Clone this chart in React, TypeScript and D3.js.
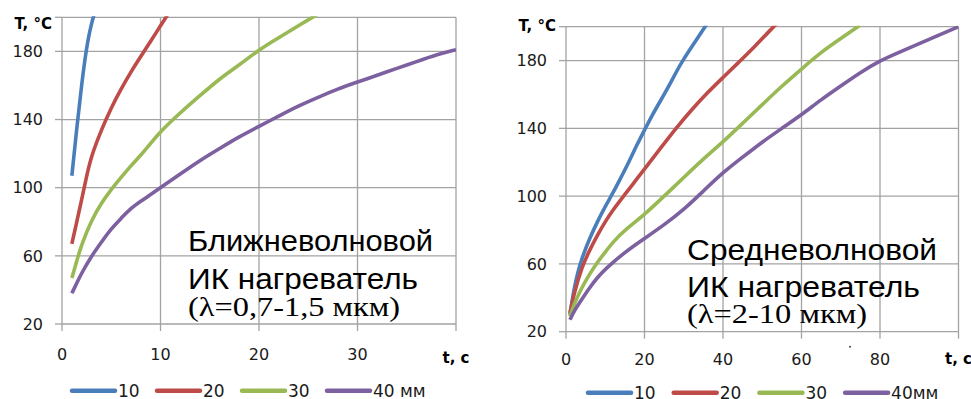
import React, { useEffect, useRef } from 'react';
import * as d3 from 'd3';

// series colours (Excel 2007 palette)
const colors = ['#4a7ebb', '#be4b48', '#98b954', '#7d60a0'];

// near-wave heater, t (s) vs T (°C), thickness 10/20/30/40 mm
const near10 = [[1, 107], [1.5, 135], [2, 161], [2.5, 183], [3, 197], [3.5, 206]];
const near20 = [[1, 67], [1.5, 80], [2, 93], [2.5, 107], [3, 119], [4, 134], [5, 147], [6, 158], [7, 168], [8, 177], [9, 186], [10, 195], [11, 204]];
const near30 = [[1, 47], [1.5, 57], [2, 67], [3, 81], [4, 91], [5, 99], [6, 106], [7, 113], [8, 119], [9, 126], [10, 133], [12, 144], [14, 154], [16, 164], [18, 172], [20, 181], [22, 188], [24, 195], [26, 202]];
const near40 = [[1, 38], [1.5, 44], [2, 50], [3, 60], [4, 68], [5, 76], [6, 82], [7, 88], [8, 92], [9, 96], [10, 100], [12, 108], [14, 116], [16, 123], [18, 130], [20, 136], [22, 142], [24, 148], [26, 153], [28, 158], [30, 162], [32, 166], [34, 170], [36, 174], [38, 178], [40, 181]];

// mid-wave heater
const mid10 = [[1, 30], [2, 45], [3, 55], [4, 63], [6, 75], [8, 85], [10, 94], [12, 102], [14, 111], [16, 120], [18, 130], [20, 139], [22, 148], [24, 156], [26, 164], [28, 173], [30, 181], [32, 188], [34, 195], [36, 202]];
const mid20 = [[1, 31], [2, 42], [4, 58], [6, 68], [8, 77], [10, 85], [12, 92], [14, 98], [16, 104], [18, 110], [20, 116], [24, 128], [28, 140], [32, 151], [36, 161], [40, 170], [44, 179], [48, 188], [52, 198], [56, 207]];
const mid30 = [[1, 29], [2, 36], [4, 46], [6, 54], [8, 61], [10, 67], [12, 73], [15, 80], [20, 89], [25, 100], [30, 111], [35, 122], [40, 132], [45, 143], [50, 154], [55, 165], [60, 175], [65, 185], [70, 193], [75, 201]];
const mid40 = [[1, 27], [2, 32], [4, 39], [6, 46], [8, 52], [10, 57], [15, 67], [20, 75], [25, 83], [30, 92], [35, 103], [40, 114], [45, 123], [50, 132], [55, 140], [60, 148], [65, 157], [70, 165], [75, 173], [80, 180], [85, 185], [90, 190], [95, 195], [100, 200]];

const legendNear = ['10', '20', '30', '40 мм'];
const legendMid = ['10', '20', '30', '40мм'];
const yTickValues = [20, 60, 100, 140, 180];
const yGridValues = [20, 60, 100, 140, 180, 200];

const panels = [
  {
    id: 'near', series: [near10, near20, near30, near40], legend: legendNear,
    xMax: 40, xStep: 10, x0: 62, x1: 456, yBottom: 324, yTop: 17.3,
    yTitleY: 24, xLabelDy: 30, xTitleDy: 34, legendX: 72, legendStep: 85, legendY: 390.7,
    note: ['Ближневолновой', 'ИК нагреватель', '(λ=0,7-1,5 мкм)'],
    noteX: 188, noteY: [251, 289, 315.5], noteW: [245, 230, 212],
  },
  {
    id: 'mid', series: [mid10, mid20, mid30, mid40], legend: legendMid,
    xMax: 100, xStep: 20, x0: 566, x1: 958.5, yBottom: 331.7, yTop: 26.7,
    yTitleY: 25.7, xLabelDy: 28, xTitleDy: 27, legendX: 588, legendStep: 85.7, legendY: 392.7,
    note: ['Средневолновой', 'ИК нагреватель', '(λ=2-10 мкм)'],
    noteX: 687, noteY: [260, 297, 323], noteW: [250, 233, 180],
  },
];

const gridColor = '#a3a3a3';
const tickFont = 'DejaVu Sans, Verdana, sans-serif';

const drawPanel = (root, p) => {
  const g = root.append('g');
  const x = d3.scaleLinear().domain([0, p.xMax]).range([p.x0, p.x1]);
  const y = d3.scaleLinear().domain([20, 200]).range([p.yBottom, p.yTop]);
  const xTicks = d3.range(0, p.xMax + 0.001, p.xStep);

  // grid
  g.selectAll('.vgrid').data(xTicks).enter().append('line')
    .attr('x1', d => x(d)).attr('x2', d => x(d))
    .attr('y1', y(20)).attr('y2', y(200))
    .style('stroke', gridColor).style('stroke-width', 1.3);
  g.selectAll('.hgrid').data(yGridValues).enter().append('line')
    .attr('x1', x(0)).attr('x2', x(p.xMax))
    .attr('y1', d => y(d)).attr('y2', d => y(d))
    .style('stroke', gridColor).style('stroke-width', 1.3);

  // tick marks
  g.selectAll('.ytick').data(yGridValues).enter().append('line')
    .attr('x1', x(0) - 7).attr('x2', x(0))
    .attr('y1', d => y(d)).attr('y2', d => y(d))
    .style('stroke', gridColor).style('stroke-width', 1.3);
  g.selectAll('.xtick').data(xTicks).enter().append('line')
    .attr('x1', d => x(d)).attr('x2', d => x(d))
    .attr('y1', y(20)).attr('y2', y(20) + 7)
    .style('stroke', gridColor).style('stroke-width', 1.3);

  // tick labels
  g.selectAll('.ylab').data(yTickValues).enter().append('text')
    .attr('x', x(0) - 19).attr('y', d => y(d))
    .attr('dy', '0.36em')
    .attr('text-anchor', 'end')
    .style('font-family', tickFont).style('font-size', '16px').style('fill', '#1a1a1a')
    .text(d => d);
  g.selectAll('.xlab').data(xTicks.slice(0, -1)).enter().append('text')
    .attr('x', d => x(d)).attr('y', y(20) + p.xLabelDy)
    .attr('dy', '0.36em')
    .attr('text-anchor', 'middle')
    .style('font-family', tickFont).style('font-size', '16px').style('fill', '#1a1a1a')
    .text(d => d);

  // axis titles
  g.append('text')
    .attr('x', x(0) - 10).attr('y', p.yTitleY).attr('dy', '0.36em')
    .attr('text-anchor', 'end')
    .style('font-family', tickFont).style('font-size', '15px').style('font-weight', 'bold')
    .text('T, °C');
  g.append('text')
    .attr('x', x(p.xMax)).attr('y', y(20) + p.xTitleDy).attr('dy', '0.36em')
    .attr('text-anchor', 'middle')
    .style('font-family', tickFont).style('font-size', '15px').style('font-weight', 'bold')
    .text('t, c');

  // curves
  g.append('clipPath').attr('id', 'clip-' + p.id)
    .append('rect')
    .attr('x', x(0)).attr('y', y(200) - 1)
    .attr('width', x(p.xMax) - x(0)).attr('height', y(20) - y(200) + 1);

  const line = d3.line()
    .x(d => x(d[0]))
    .y(d => y(d[1]))
    .curve(d3.curveBasis);

  g.append('g').attr('clip-path', `url(#clip-${p.id})`)
    .selectAll('path').data(p.series).enter().append('path')
    .attr('d', d => line(d))
    .style('fill', 'none')
    .style('stroke', (d, i) => colors[i])
    .style('stroke-width', 3.6)
    .style('stroke-linecap', 'butt');

  // annotation
  p.note.forEach((txt, i) => {
    g.append('text')
      .attr('x', p.noteX).attr('y', p.noteY[i])
      .attr('textLength', p.noteW[i]).attr('lengthAdjust', 'spacingAndGlyphs')
      .style('font-family', i < 2 ? 'Liberation Sans, Arial, sans-serif' : 'Liberation Serif, Times New Roman, serif')
      .style('font-size', i < 2 ? '30px' : '27px')
      .style('fill', '#000')
      .text(txt);
  });

  // legend
  const leg = g.selectAll('.leg').data(p.legend).enter().append('g')
    .attr('transform', (d, i) => `translate(${p.legendX + i * p.legendStep},${p.legendY})`);
  leg.append('line')
    .attr('x1', 0).attr('x2', 43).attr('y1', 0).attr('y2', 0)
    .style('stroke', (d, i) => colors[i])
    .style('stroke-width', 4.5)
    .style('stroke-linecap', 'round');
  leg.append('text')
    .attr('x', 46).attr('y', 0).attr('dy', '0.36em')
    .style('font-family', tickFont).style('font-size', '17px').style('fill', '#1a1a1a')
    .text(d => d);
};

const App = () => {
  const ref = useRef(null);

  useEffect(() => {
    const svg = d3.select(ref.current);
    svg.selectAll('*').remove();
    panels.forEach(p => drawPanel(svg, p));
    // stray speck in the scan
    svg.append('circle').attr('cx', 850).attr('cy', 346.7).attr('r', 1).style('fill', '#444');
  }, []);

  return (
    <svg
      ref={ref}
      width={971}
      height={399}
      style={{ position: 'absolute', left: 0, top: 0, background: '#fff' }}
    />
  );
};

export default App;
